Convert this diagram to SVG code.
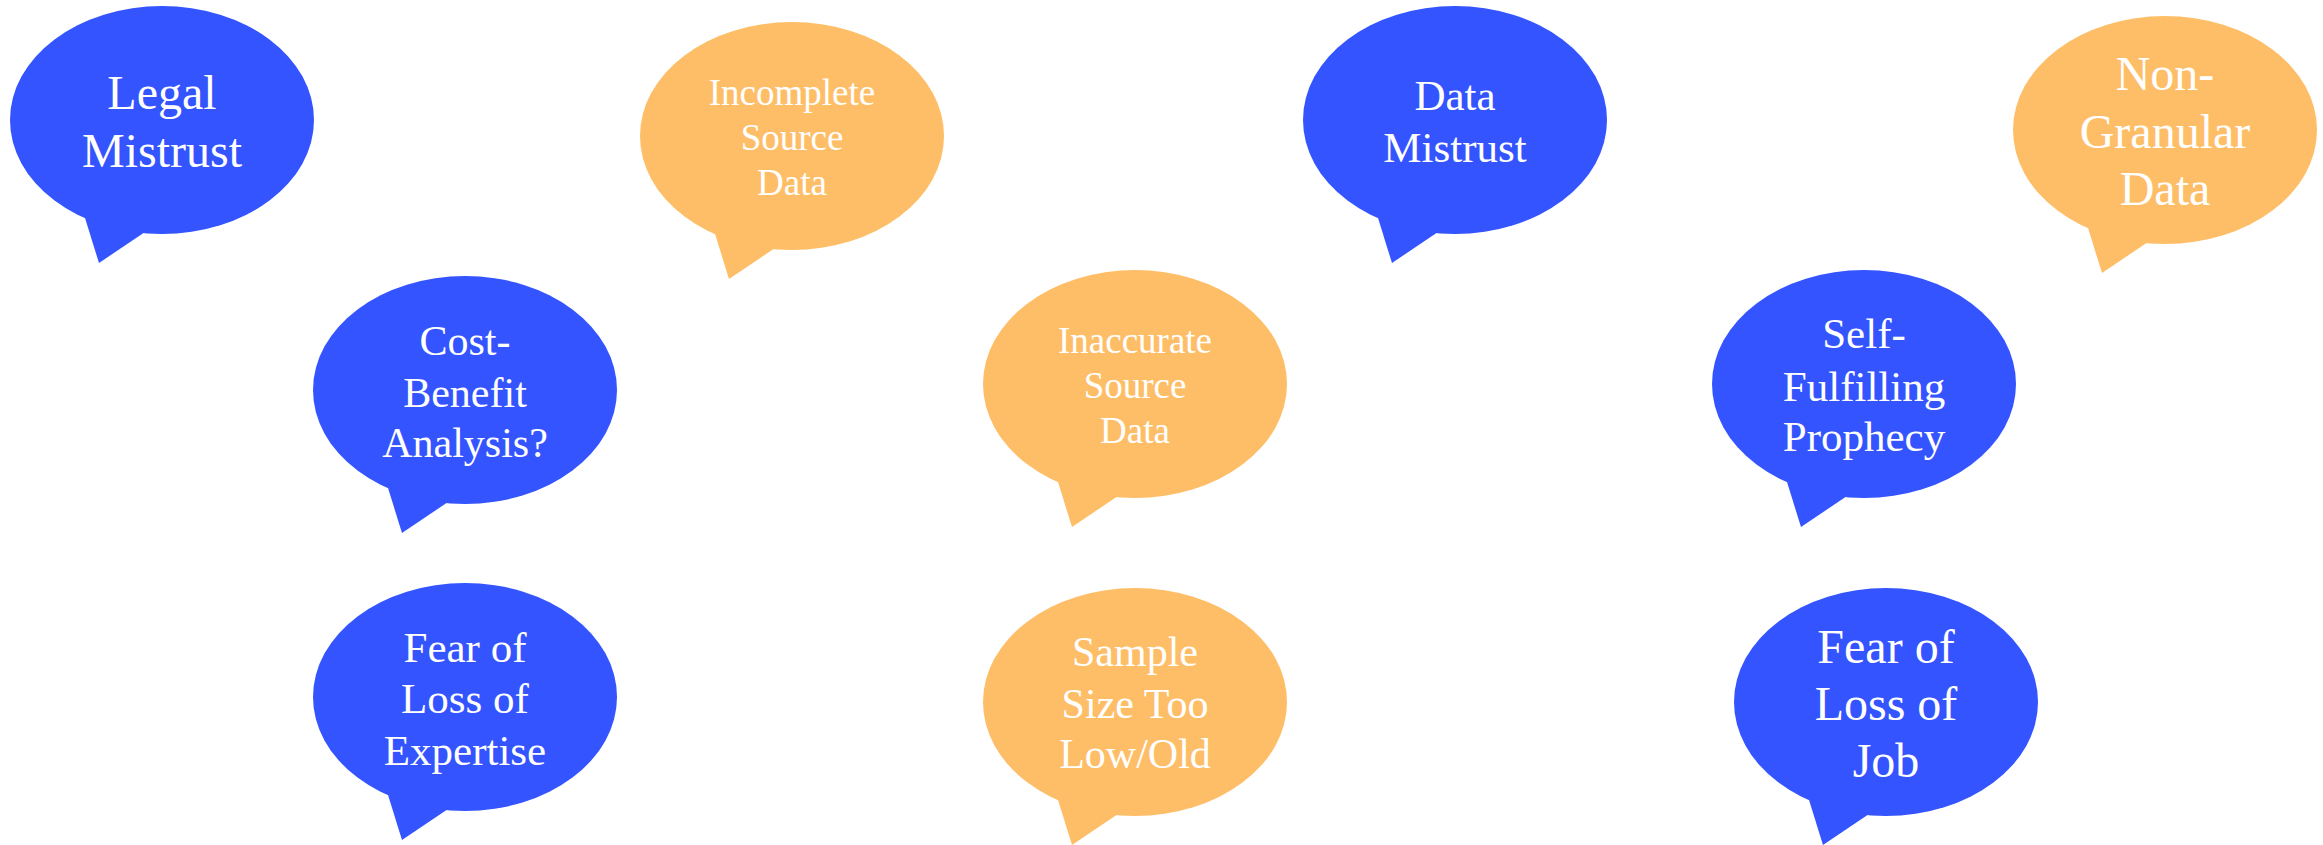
<svg xmlns="http://www.w3.org/2000/svg" xmlns:xlink="http://www.w3.org/1999/xlink" width="2323" height="845" viewBox="0 0 2323 845">
<style>
.blue{fill:#3354FF}
.orange{fill:#FEBE68}
text{font-family:"Liberation Serif","Times New Roman",serif;fill:#FFFFFF;text-anchor:middle}
</style>
<defs>
<g id="bubble">
<ellipse cx="0" cy="0" rx="152" ry="114"/>
<polygon points="-77,98 -63,143 -17,112"/>
</g>
</defs>
<rect width="2323" height="845" fill="#FFFFFF"/>
<g id="connectors"></g>
<g id="legal-mistrust"><use xlink:href="#bubble" href="#bubble" class="blue" transform="translate(162,120)"/>
<text font-size="48"><tspan x="162" y="109">Legal</tspan><tspan x="162" y="167">Mistrust</tspan></text></g>
<g id="incomplete-source-data"><use xlink:href="#bubble" href="#bubble" class="orange" transform="translate(792,136)"/>
<text font-size="37"><tspan x="792" y="105">Incomplete</tspan><tspan x="792" y="150">Source</tspan><tspan x="792" y="195">Data</tspan></text></g>
<g id="data-mistrust"><use xlink:href="#bubble" href="#bubble" class="blue" transform="translate(1455,120)"/>
<text font-size="43"><tspan x="1455" y="110">Data</tspan><tspan x="1455" y="162">Mistrust</tspan></text></g>
<g id="non-granular-data"><use xlink:href="#bubble" href="#bubble" class="orange" transform="translate(2165,130)"/>
<text font-size="48"><tspan x="2165" y="90">Non-</tspan><tspan x="2165" y="148">Granular</tspan><tspan x="2165" y="205">Data</tspan></text></g>
<g id="cost-benefit"><use xlink:href="#bubble" href="#bubble" class="blue" transform="translate(465,390)"/>
<text font-size="42"><tspan x="465" y="355">Cost-</tspan><tspan x="465" y="407">Benefit</tspan><tspan x="465" y="457">Analysis?</tspan></text></g>
<g id="inaccurate-source-data"><use xlink:href="#bubble" href="#bubble" class="orange" transform="translate(1135,384)"/>
<text font-size="37"><tspan x="1135" y="353">Inaccurate</tspan><tspan x="1135" y="398">Source</tspan><tspan x="1135" y="443">Data</tspan></text></g>
<g id="self-fulfilling-prophecy"><use xlink:href="#bubble" href="#bubble" class="blue" transform="translate(1864,384)"/>
<text font-size="43"><tspan x="1864" y="348">Self-</tspan><tspan x="1864" y="401">Fulfilling</tspan><tspan x="1864" y="451">Prophecy</tspan></text></g>
<g id="fear-loss-expertise"><use xlink:href="#bubble" href="#bubble" class="blue" transform="translate(465,697)"/>
<text font-size="43"><tspan x="465" y="662">Fear of</tspan><tspan x="465" y="713">Loss of</tspan><tspan x="465" y="765">Expertise</tspan></text></g>
<g id="sample-size"><use xlink:href="#bubble" href="#bubble" class="orange" transform="translate(1135,702)"/>
<text font-size="42"><tspan x="1135" y="666">Sample</tspan><tspan x="1135" y="718">Size Too</tspan><tspan x="1135" y="768">Low/Old</tspan></text></g>
<g id="fear-loss-job"><use xlink:href="#bubble" href="#bubble" class="blue" transform="translate(1886,702)"/>
<text font-size="48"><tspan x="1886" y="663">Fear of</tspan><tspan x="1886" y="720">Loss of</tspan><tspan x="1886" y="777">Job</tspan></text></g>
</svg>
